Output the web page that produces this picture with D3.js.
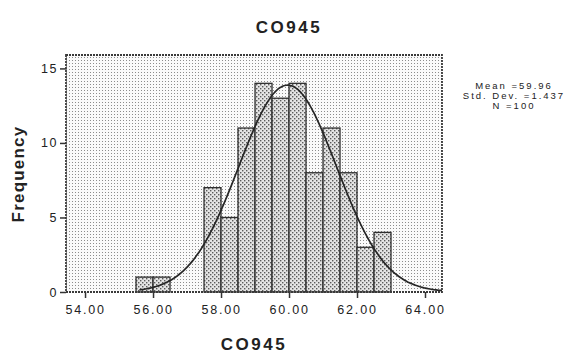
<!DOCTYPE html>
<html>
<head>
<meta charset="utf-8">
<script src="https://cdn.jsdelivr.net/npm/d3@7"></script>
<style>
  body { margin: 0; background: #fff; }
  text { font-family: "Liberation Sans", Arial, sans-serif; fill: #222; }
</style>
</head>
<body>
<svg width="581" height="353"></svg>
<script>
// histogram bins (lower edge, upper edge, count)
var binLo = [55.5, 56.0, 57.5, 58.0, 58.5, 59.0, 59.5, 60.0, 60.5, 61.0, 61.5, 62.0, 62.5];
var binHi = [56.0, 56.5, 58.0, 58.5, 59.0, 59.5, 60.0, 60.5, 61.0, 61.5, 62.0, 62.5, 63.0];
var counts = [1, 1, 7, 5, 11, 14, 13, 14, 8, 11, 8, 3, 4];
var xTicks = [54, 56, 58, 60, 62, 64];
var yTicks = [0, 5, 10, 15];
var statLines = ["Mean =59.96", "Std. Dev. =1.437", "N =100"];
var mean = 59.96, sd = 1.437, n = 100, binW = 0.5;

var svg = d3.select("svg");

// patterns for the dotted fills
var defs = svg.append("defs");
var bgPat = defs.append("pattern").attr("id", "bgdots")
  .attr("width", 3).attr("height", 3).attr("patternUnits", "userSpaceOnUse");
bgPat.append("rect").attr("width", 3).attr("height", 3).attr("fill", "#fafafa");
bgPat.append("rect").attr("width", 1).attr("height", 1).attr("fill", "#8c8c8c");

var barPat = defs.append("pattern").attr("id", "bardots")
  .attr("width", 4).attr("height", 4).attr("patternUnits", "userSpaceOnUse");
barPat.append("rect").attr("width", 4).attr("height", 4).attr("fill", "#e4e4e4");
barPat.append("rect").attr("width", 1.4).attr("height", 1.4).attr("fill", "#5a5a5a");
barPat.append("rect").attr("x", 2).attr("y", 2).attr("width", 1.4).attr("height", 1.4).attr("fill", "#5a5a5a");

var pLeft = 66, pRight = 442, pTop = 55, pBottom = 292;
var x = d3.scaleLinear().domain([53.44, 64.5]).range([pLeft, pRight]);
var y = d3.scaleLinear().domain([0, 15.9]).range([pBottom, pTop]);

// plot area
svg.append("rect")
  .attr("x", pLeft).attr("y", pTop)
  .attr("width", pRight - pLeft).attr("height", pBottom - pTop)
  .attr("fill", "url(#bgdots)");

// bars
var bins = counts.map(function(c, i){ return {lo: binLo[i], hi: binHi[i], c: c}; });
svg.selectAll(".bar").data(bins).enter().append("rect")
  .attr("class", "bar")
  .attr("x", function(d){ return x(d.lo); })
  .attr("y", function(d){ return y(d.c); })
  .attr("width", function(d){ return x(d.hi) - x(d.lo); })
  .attr("height", function(d){ return y(0) - y(d.c); })
  .attr("fill", "url(#bardots)")
  .attr("stroke", "#2e2e2e")
  .attr("stroke-width", 1.3);

// normal curve
var pts = d3.range(0, 201).map(function(i){
  var v = 55.6 + i * (64.5 - 55.6) / 200;
  var f = n * binW / (sd * Math.sqrt(2 * Math.PI)) * Math.exp(-0.5 * Math.pow((v - mean) / sd, 2));
  return [v, f];
});
svg.append("path").datum(pts)
  .attr("d", d3.line().x(function(d){ return x(d[0]); }).y(function(d){ return y(d[1]); }).curve(d3.curveBasis))
  .attr("fill", "none").attr("stroke", "#262626").attr("stroke-width", 1.7);

// frame
svg.append("rect")
  .attr("x", pLeft).attr("y", pTop)
  .attr("width", pRight - pLeft).attr("height", pBottom - pTop)
  .attr("fill", "none").attr("stroke", "#3a3a3a").attr("stroke-width", 1.8)
  .attr("stroke-dasharray", "2,1");

// axes
var xAxis = d3.axisBottom(x).tickValues(xTicks).tickFormat(d3.format(".2f")).tickSize(6).tickSizeOuter(0);
var gx = svg.append("g").attr("transform", "translate(0," + pBottom + ")").call(xAxis);
gx.select(".domain").remove();
gx.selectAll("line").attr("stroke", "#333").attr("stroke-width", 1.5);
gx.selectAll("text").attr("font-size", 12.5).attr("letter-spacing", 1.8)
  .attr("dy", "1.05em").attr("fill", "#333");

var yAxis = d3.axisLeft(y).tickValues(yTicks).tickSize(6).tickSizeOuter(0);
var gy = svg.append("g").attr("transform", "translate(" + pLeft + ",0)").call(yAxis);
gy.select(".domain").remove();
gy.selectAll("line").attr("stroke", "#333").attr("stroke-width", 1.5);
gy.selectAll("text").attr("font-size", 12.5).attr("letter-spacing", 1.5).attr("x", -8).attr("fill", "#333");

// titles
svg.append("text").attr("x", 289).attr("y", 33).attr("text-anchor", "middle")
  .attr("font-size", 17).attr("font-weight", "bold").attr("letter-spacing", 2.5).text("CO945");
svg.append("text").attr("x", 254).attr("y", 350).attr("text-anchor", "middle")
  .attr("font-size", 17).attr("font-weight", "bold").attr("letter-spacing", 2.5).text("CO945");
svg.append("text").attr("transform", "translate(24,174) rotate(-90)").attr("text-anchor", "middle")
  .attr("font-size", 17).attr("font-weight", "bold").attr("letter-spacing", 1.2).text("Frequency");

// stats
svg.append("g").selectAll("text").data(statLines).enter().append("text")
  .attr("x", 514).attr("y", function(d, i){ return 89 + i * 10; })
  .attr("text-anchor", "middle").attr("font-size", 9.5).attr("letter-spacing", 2).attr("fill", "#333")
  .text(function(d){ return d; });
</script>
</body>
</html>
